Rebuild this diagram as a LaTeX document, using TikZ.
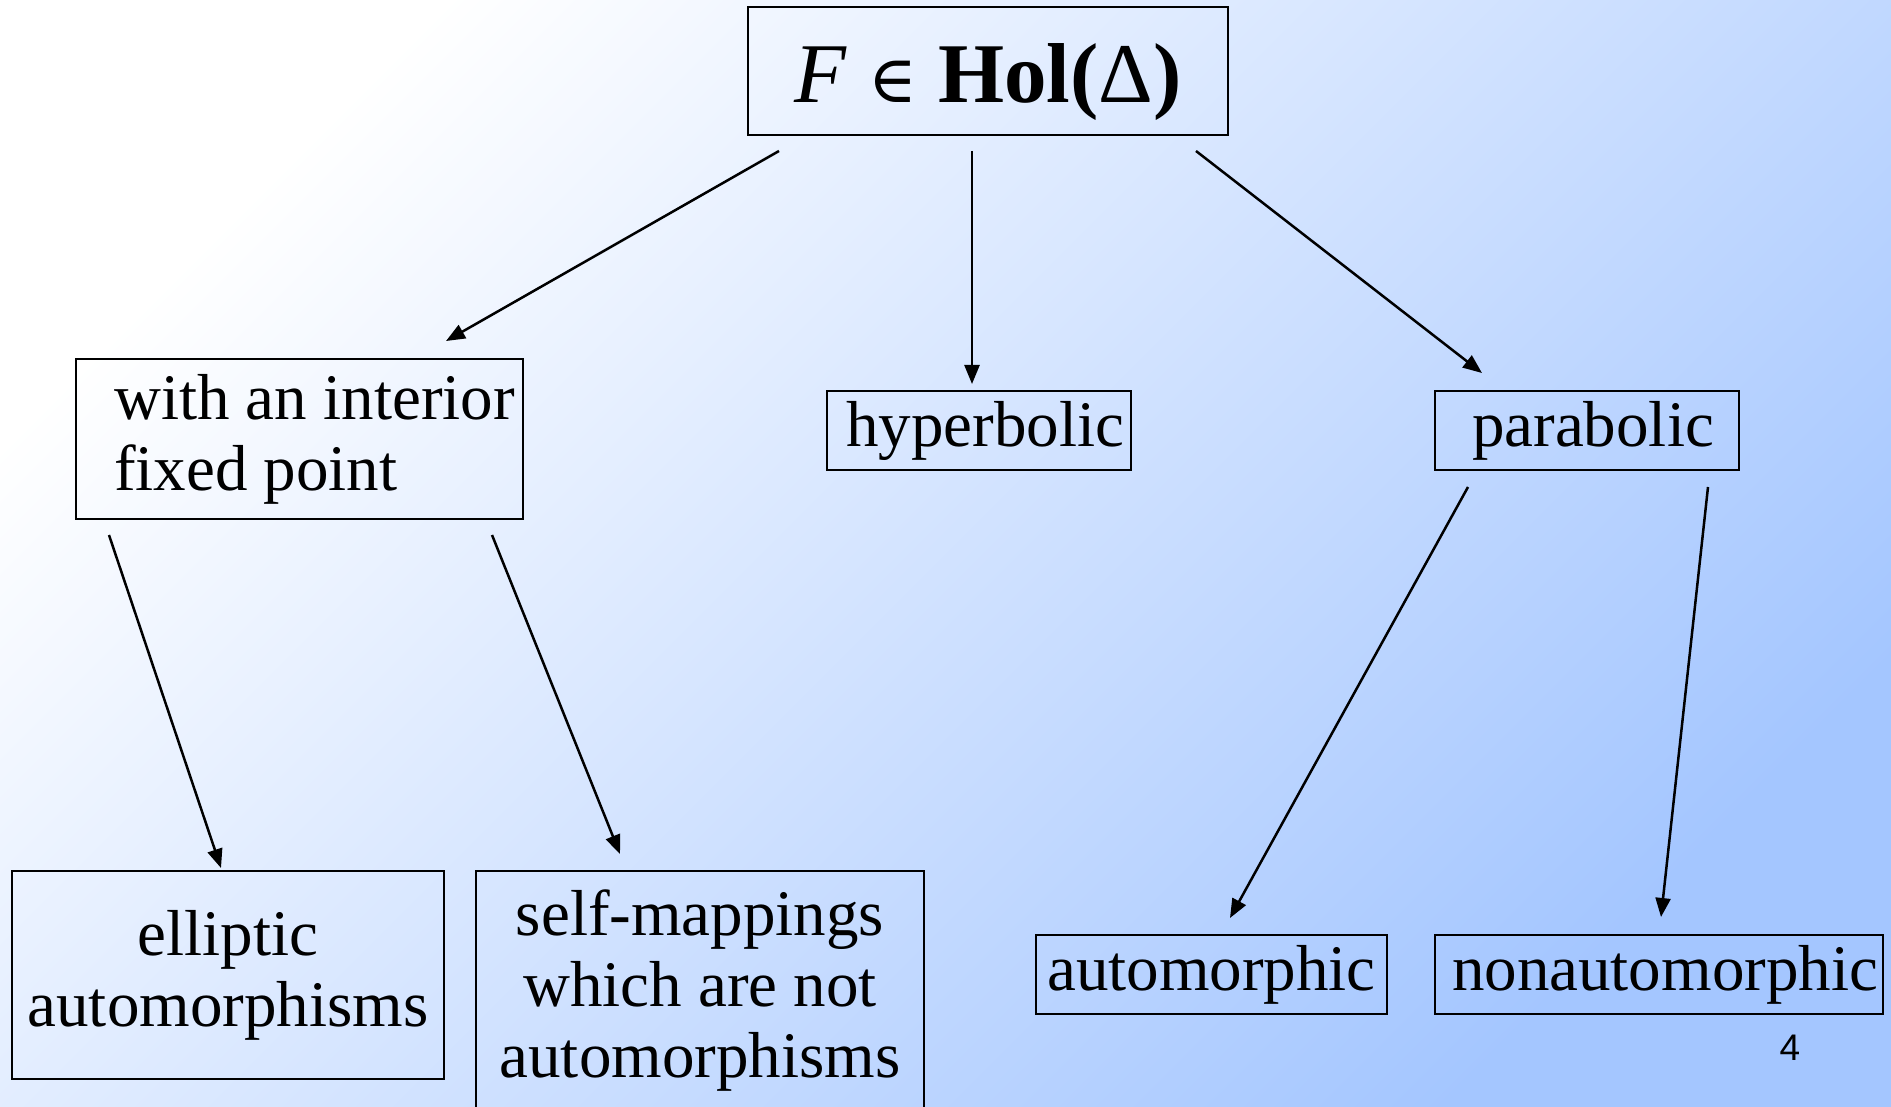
\documentclass[tikz,border=0pt]{standalone}
\usepackage{fontspec}
\setmainfont{Liberation Serif}
\newfontfamily\numfont{Liberation Sans}
\newfontfamily\symfont{DejaVu Serif}
\usetikzlibrary{arrows.meta}
\definecolor{bgblue}{RGB}{164,198,255}

\tikzset{
  box/.style={draw, line width=1.3pt, inner sep=0pt, align=center,
    font=\fontsize{32.5}{35.5}\selectfont},
  arr/.style={line width=1.25pt, -{Triangle[length=9.5pt,width=7.5pt]}}
}

\begin{document}
\begin{tikzpicture}[x=0.5pt,y=-0.5pt]
    % Background
    \shade[top color=white, bottom color=bgblue, shading angle=45] (0,0) rectangle (1891,1107);
    \useasboundingbox (0,0) rectangle (1891,1107);

    % Boxes
    \node[box, minimum width=240pt, minimum height=64pt, text height=41pt, text depth=9pt,
      font=\fontsize{42.5}{46}\selectfont]
      (top) at (988,71) {\textit{F} {\symfont\fontsize{33}{36}\selectfont ∈} \textbf{Hol(}Δ\textbf{)}};
    \node[box, minimum width=223.5pt, minimum height=80pt, align=left]
      (interior) at (299.5,439) {\hspace*{15pt}with an interior\\\hspace*{15pt}fixed point};
    \node[box, minimum width=152pt, minimum height=39.5pt] (hyper) at (979,430.5) {\hspace*{6pt}hyperbolic};
    \node[box, minimum width=152pt, minimum height=39.5pt] (para) at (1587,430.5) {\hspace*{6pt}parabolic};
    \node[box, minimum width=216pt, minimum height=104pt] (ellip) at (228,975) {elliptic\\automorphisms};
    \node[box, minimum width=224pt, minimum height=120pt] (selfmap) at (700,991)
      {self-mappings\\which are not\\automorphisms};
    \node[box, minimum width=175.5pt, minimum height=39.5pt] (auto) at (1211.5,974.5) {automorphic};
    \node[box, minimum width=224pt, minimum height=39.5pt] (nonauto) at (1659,974.5) {\hspace*{6pt}nonautomorphic};

    % Arrow ends
    \coordinate (topL) at (779,151);   \coordinate (interiorT) at (446,341);
    \coordinate (topM) at (972,151);   \coordinate (hyperT) at (972,384);
    \coordinate (topR) at (1196,151);  \coordinate (paraT) at (1482,373);
    \coordinate (interiorL) at (109,535); \coordinate (ellipT) at (221,868);
    \coordinate (interiorR) at (492,535); \coordinate (selfmapT) at (620,854);
    \coordinate (paraL) at (1468,487); \coordinate (autoT) at (1230,918);
    \coordinate (paraR) at (1708,487); \coordinate (nonautoT) at (1661,917);

    % Arrows
    \draw[arr] (topL) -- (interiorT);
    \draw[arr] (topM) -- (hyperT);
    \draw[arr] (topR) -- (paraT);
    \draw[arr] (interiorL) -- (ellipT);
    \draw[arr] (interiorR) -- (selfmapT);
    \draw[arr] (paraL) -- (autoT);
    \draw[arr] (paraR) -- (nonautoT);

    % Page number
    \node[font=\numfont\fontsize{18.5}{20}\selectfont] (pagenum) at (1790,1048) {4};
\end{tikzpicture}
\end{document}
